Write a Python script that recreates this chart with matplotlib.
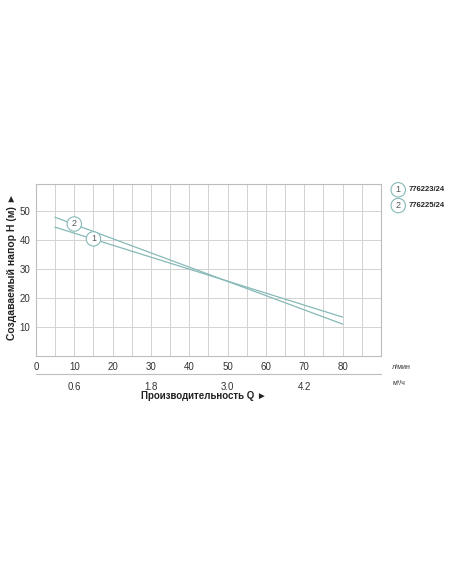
import matplotlib.pyplot as plt

# pump curves, Q in l/min, H in m
q = [5, 80]
h1 = [44.3, 13.5]   # 776223/24
h2 = [47.7, 11.1]   # 776225/24
models = ["776223/24", "776225/24"]
lpm_ticks = [0, 10, 20, 30, 40, 50, 60, 70, 80]
m3h_ticks = [0.6, 1.8, 3.0, 4.2]
h_ticks = [10, 20, 30, 40, 50]

line_col = "#86b9b8"
grid_col = "#d2d2d2"
txt_col = "#333333"

plt.rcParams['font.family'] = ['Liberation Sans', 'DejaVu Sans']

fig = plt.figure(figsize=(4.52, 5.84), dpi=100)
ax = fig.add_axes([0.0796, 0.3896, 0.763, 0.2948])

ax.plot(q, h1, color=line_col, lw=0.9)
ax.plot(q, h2, color=line_col, lw=0.9)

ax.set_xlim(0, 90)
ax.set_ylim(0, 59)
ax.set_xticks(range(5, 90, 5), minor=True)
ax.set_xticks(lpm_ticks)
ax.set_yticks(h_ticks)
ax.grid(True, which="both", axis="x", color=grid_col, lw=0.7)
ax.grid(True, axis="y", color=grid_col, lw=0.7)
ax.tick_params(which="both", length=0, labelsize=7, labelcolor=txt_col, pad=4)
for s in ax.spines.values():
    s.set_color("#bdbdbd")
    s.set_linewidth(0.8)

# curve number markers
circ = dict(boxstyle="circle,pad=0.3", fc="white", ec=line_col, lw=0.8)
ax.text(15, 40.3, "1", fontsize=6.5, ha="center", va="center", color="#555555", bbox=circ)
ax.text(10, 45.4, "2", fontsize=6.5, ha="center", va="center", color="#555555", bbox=circ)

# second flow scale in m3/h
sec = ax.secondary_xaxis(-0.1016, functions=(lambda x: x * 0.06, lambda x: x / 0.06))
sec.set_xticks(m3h_ticks)
sec.set_xticklabels([f"{v:.1f}" for v in m3h_ticks])
sec.tick_params(length=0, labelsize=7, labelcolor=txt_col, pad=6)
sec.spines["bottom"].set_color("#bdbdbd")
sec.spines["bottom"].set_linewidth(0.8)

fig.text(0.451, 0.322, "Производительность Q ►", fontsize=7, fontweight="bold",
         ha="center", va="center", color="#222222")
fig.text(0.026, 0.543, "Создаваемый напор H (м) ►", fontsize=7.5, fontweight="bold",
         rotation=90, ha="center", va="center", color="#222222")
fig.text(0.868, 0.371, "л/мин", fontsize=5, ha="left", va="center", color=txt_col)
fig.text(0.868, 0.344, "м³/ч", fontsize=5, ha="left", va="center", color=txt_col)

# legend
for i, (num, name) in enumerate(zip(["1", "2"], models)):
    y = 0.675 - i * 0.027
    fig.text(0.881, y, num, fontsize=6.5, ha="center", va="center", color="#555555", bbox=circ)
    fig.text(0.905, y, name, fontsize=5.5, fontweight="bold", ha="left", va="center",
             color="#222222")

fig.savefig("out.png", dpi=100)
